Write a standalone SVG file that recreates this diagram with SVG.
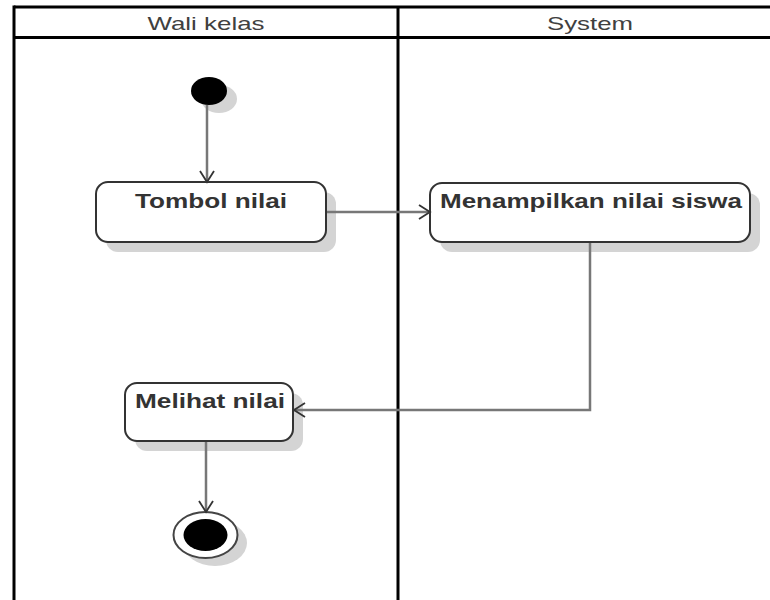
<svg xmlns="http://www.w3.org/2000/svg" width="770" height="600" viewBox="0 0 770 600">
  <style>
    .lane { stroke: #000; stroke-width: 3; fill: none; }
    .hdr { font-family: "Liberation Sans", Arial, sans-serif; font-size: 19px; fill: #404040; text-anchor: middle; }
    .box { fill: #fff; stroke: #333; stroke-width: 2; }
    .shadow { fill: #d4d4d4; }
    .lbl { font-family: "Liberation Sans", Arial, sans-serif; font-size: 21px; font-weight: bold; fill: #333; }
    .edge { stroke: #777; stroke-width: 2.5; fill: none; }
  </style>
  <defs>
    <marker id="open" markerUnits="userSpaceOnUse" markerWidth="20" markerHeight="20" refX="12" refY="8" orient="auto" viewBox="0 0 20 16">
      <path d="M1,1 L12,8 L1,15" fill="none" stroke="#333" stroke-width="1.8"/>
    </marker>
  </defs>
  <rect width="770" height="600" fill="#fff"/>

  <g id="swimlanes">
    <line class="lane" x1="14" y1="7" x2="775" y2="7"/>
    <line class="lane" x1="14" y1="37.5" x2="775" y2="37.5"/>
    <line class="lane" x1="14" y1="5.5" x2="14" y2="600"/>
    <line class="lane" x1="398" y1="7" x2="398" y2="600"/>
    <text class="hdr" x="206" y="30" textLength="117" lengthAdjust="spacingAndGlyphs">Wali kelas</text>
    <text class="hdr" x="590" y="30" textLength="86" lengthAdjust="spacingAndGlyphs">System</text>
  </g>

  <g id="start">
    <ellipse class="shadow" cx="219" cy="99" rx="18" ry="14"/>
    <ellipse cx="209" cy="91" rx="18" ry="14" fill="#000"/>
  </g>

  <g id="tombol">
    <rect class="shadow" x="106" y="192" width="230" height="60" rx="12"/>
    <rect class="box" x="96" y="182" width="230" height="60" rx="12"/>
    <text class="lbl" x="135" y="208" textLength="152" lengthAdjust="spacingAndGlyphs">Tombol nilai</text>
  </g>

  <g id="menampilkan">
    <rect class="shadow" x="440" y="193" width="320" height="59" rx="12"/>
    <rect class="box" x="430" y="183" width="320" height="59" rx="12"/>
    <text class="lbl" x="440" y="208" textLength="302" lengthAdjust="spacingAndGlyphs">Menampilkan nilai siswa</text>
  </g>

  <g id="melihat">
    <rect class="shadow" x="135" y="393" width="168" height="58" rx="12"/>
    <rect class="box" x="125" y="383" width="168" height="58" rx="12"/>
    <text class="lbl" x="135" y="408" textLength="150" lengthAdjust="spacingAndGlyphs">Melihat nilai</text>
  </g>

  <g id="end">
    <ellipse class="shadow" cx="215" cy="543" rx="32" ry="23"/>
    <ellipse cx="205.5" cy="535" rx="32" ry="23" fill="#fff" stroke="#444" stroke-width="2"/>
    <ellipse cx="205.5" cy="535" rx="22" ry="16" fill="#000"/>
  </g>

  <g id="connectors">
    <line class="edge" x1="207" y1="105" x2="207" y2="182" marker-end="url(#open)"/>
    <line class="edge" x1="327" y1="212" x2="430" y2="212" marker-end="url(#open)"/>
    <polyline class="edge" points="590,243 590,410 294,410" marker-end="url(#open)"/>
    <line class="edge" x1="206" y1="442" x2="206" y2="512" marker-end="url(#open)"/>
  </g>
</svg>
